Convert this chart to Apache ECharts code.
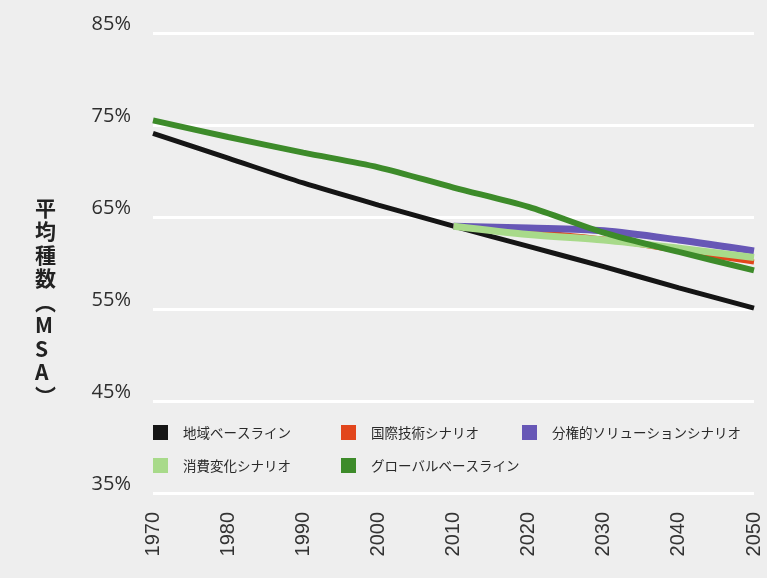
<!DOCTYPE html>
<html>
<head>
<meta charset="utf-8">
<script src="https://cdn.jsdelivr.net/npm/echarts@6/dist/echarts.min.js"></script>
<style>
  html, body { margin: 0; padding: 0; background: #eeeeee; }
  #chart { width: 767px; height: 578px; }
</style>
</head>
<body>
<div id="chart"></div>
<script>
// Years on the horizontal axis
const years = [1970, 1980, 1990, 2000, 2010, 2020, 2030, 2040, 2050];

// Mean species abundance (%) per scenario
const regionalBaseline = [74.1, 71.4, 68.7, 66.3, 64.0, 61.8, 59.6, 57.3, 55.1];
const globalBaseline   = [75.5, 73.7, 72.0, 70.4, 68.2, 66.1, 63.3, 61.2, 59.2];
const techScenario     = [null, null, null, null, 64.0, 63.4, 62.6, 61.3, 60.1];
const decentralScenario= [null, null, null, null, 64.0, 63.8, 63.5, 62.5, 61.3];
const consumeScenario  = [null, null, null, null, 64.0, 63.1, 62.5, 61.6, 60.6];

const seriesNames = ['地域ベースライン', '国際技術シナリオ', '分権的ソリューションシナリオ', '消費変化シナリオ', 'グローバルベースライン'];
const yTicks = [35, 45, 55, 65, 75, 85];
const yTitle = ['平', '均', '種', '数', '︵', 'M', 'S', 'A', '︶'];

const colors = {
  regional: '#151515',
  tech: '#e2461c',
  decentral: '#6757b6',
  consume: '#a8da8a',
  global: '#3d8b2a'
};

const pair = arr => years.map((y, i) => [y, arr[i]]);

const chart = echarts.init(document.getElementById('chart'), null, { renderer: 'canvas' });

function legendAt(name, left, top) {
  return {
    data: [name],
    left: left, top: top,
    icon: 'rect',
    itemWidth: 15, itemHeight: 15,
    selectedMode: false,
    textStyle: { fontSize: 13.5, color: '#2a2a2a', padding: [0, 0, 0, 10], fontFamily: 'Noto Sans CJK JP' }
  };
}

chart.setOption({
  backgroundColor: '#eeeeee',
  animation: false,
  grid: { left: 153, right: 13, top: 33, bottom: 85, containLabel: false },
  xAxis: {
    type: 'value',
    min: 1970, max: 2050, interval: 10,
    axisLine: { show: false },
    axisTick: { show: false },
    splitLine: { show: false },
    axisLabel: {
      rotate: 90,
      margin: 19,
      fontSize: 20,
      color: '#333',
      fontFamily: 'Liberation Sans',
      formatter: v => String(v)
    }
  },
  yAxis: {
    type: 'value',
    min: yTicks[0], max: yTicks[yTicks.length - 1], interval: 10,
    axisLine: { show: false },
    axisTick: { show: false },
    splitLine: { show: true, lineStyle: { color: '#ffffff', width: 3 } },
    axisLabel: {
      // second empty line lifts the percentage above its grid line
      formatter: v => v + '%\n',
      lineHeight: 17,
      margin: 22,
      fontSize: 20,
      color: '#2e2e2e',
      fontFamily: 'Open Sans'
    }
  },
  legend: [
    legendAt(seriesNames[0], 148, 420),
    legendAt(seriesNames[1], 336, 420),
    legendAt(seriesNames[2], 517, 420),
    legendAt(seriesNames[3], 148, 453),
    legendAt(seriesNames[4], 336, 453)
  ],
  graphic: [{
    type: 'text',
    left: 35,
    top: 196,
    style: {
      text: yTitle.join('\n'),
      fontSize: 21,
      lineHeight: 23.5,
      fontWeight: 'bold',
      fill: '#222',
      align: 'center',
      fontFamily: 'Noto Sans CJK JP'
    }
  }],
  series: [
    {
      name: seriesNames[0], type: 'line', data: pair(regionalBaseline),
      smooth: 0.3, symbol: 'none', z: 2,
      color: colors.regional, lineStyle: { width: 5, color: colors.regional }
    },
    {
      name: seriesNames[1], type: 'line', data: pair(techScenario),
      smooth: 0.3, symbol: 'none', z: 3,
      color: colors.tech, lineStyle: { width: 5, color: colors.tech }
    },
    {
      name: seriesNames[2], type: 'line', data: pair(decentralScenario),
      smooth: 0.3, symbol: 'none', z: 4,
      color: colors.decentral, lineStyle: { width: 7, color: colors.decentral }
    },
    {
      name: seriesNames[3], type: 'line', data: pair(consumeScenario),
      smooth: 0.3, symbol: 'none', z: 5,
      color: colors.consume, lineStyle: { width: 7, color: colors.consume }
    },
    {
      name: seriesNames[4], type: 'line', data: pair(globalBaseline),
      smooth: 0.3, symbol: 'none', z: 6,
      color: colors.global, lineStyle: { width: 6, color: colors.global }
    }
  ]
});
</script>
</body>
</html>
